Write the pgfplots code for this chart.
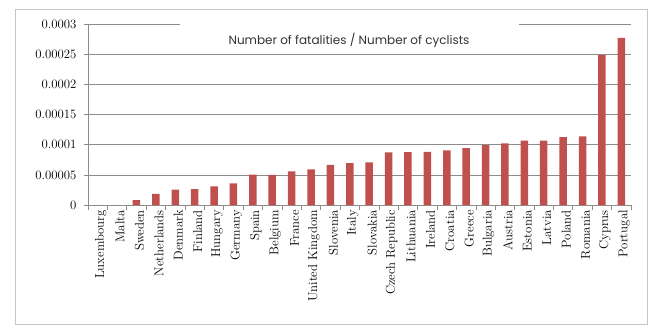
\documentclass[border=0pt]{standalone}
\usepackage{pgfplots}
\pgfplotsset{compat=1.18}
\usepackage{fontspec}
\newfontfamily\titlefont{Poppins}
\definecolor{barred}{HTML}{C0504D}
\definecolor{gridgray}{HTML}{8C8C8C}
\begin{document}
\begin{tikzpicture}[x=1pt,y=1pt]
\begin{axis}[
  name=ax,
  scale only axis, width=543pt, height=180.5pt,
  xmin=-0.5, xmax=27.5, ymin=0, ymax=0.0003,
  axis x line*=bottom, axis y line*=left,
  axis line style={gridgray, line width=0.7pt},
  ytick={0,0.00005,0.0001,0.00015,0.0002,0.00025,0.0003},
  yticklabels={0,0.00005,0.0001,0.00015,0.0002,0.00025,0.0003},
  scaled y ticks=false,
  ymajorgrids, major grid style={gridgray, line width=0.7pt},
  xtick={0,...,27},
  xticklabels={Luxembourg,Malta,Sweden,Netherlands,Denmark,Finland,Hungary,Germany,Spain,Belgium,France,United Kingdom,Slovenia,Italy,Slovakia,Czech Republic,Lithuania,Ireland,Croatia,Greece,Bulgaria,Austria,Estonia,Latvia,Poland,Romania,Cyprus,Portugal},
  minor xtick={-0.5,0.5,...,27.5},
  major x tick style={draw=none},
  minor tick length=5pt, major tick length=4pt,
  tick align=outside,
  tick style={gridgray, line width=0.7pt},
  xticklabel style={rotate=90, anchor=east, font=\fontsize{12.8}{14}\selectfont, inner sep=1pt, yshift=-3pt},
  yticklabel style={font=\fontsize{12.8}{14}\selectfont, xshift=-4pt},
]
\addplot[ybar, bar width=7.5pt, fill=barred, draw=none] coordinates {
(0,0) (1,0) (2,0.0000083) (3,0.0000183) (4,0.0000255) (5,0.0000266)
(6,0.000031) (7,0.000036) (8,0.0000504) (9,0.00005) (10,0.000056)
(11,0.0000593) (12,0.0000665) (13,0.0000698) (14,0.000071)
(15,0.0000876) (16,0.000088) (17,0.0000883) (18,0.0000909)
(19,0.0000947) (20,0.0000997) (21,0.0001025) (22,0.0001069)
(23,0.0001072) (24,0.000113) (25,0.000114) (26,0.000249) (27,0.0002776)
};
\end{axis}
\pgfresetboundingbox
\begin{scope}[shift={(ax.south west)}]
\useasboundingbox (-88,-128) rectangle (578,205);
\draw[gray!45, line width=0.8pt] (-73,-119) rectangle (559,196);
\fill[white] (92,155) rectangle (431,187);
\node[font=\titlefont\fontsize{12}{14}\selectfont, text=black!80] at (261,165) {Number of fatalities / Number of cyclists};
\end{scope}
\end{tikzpicture}
\end{document}
